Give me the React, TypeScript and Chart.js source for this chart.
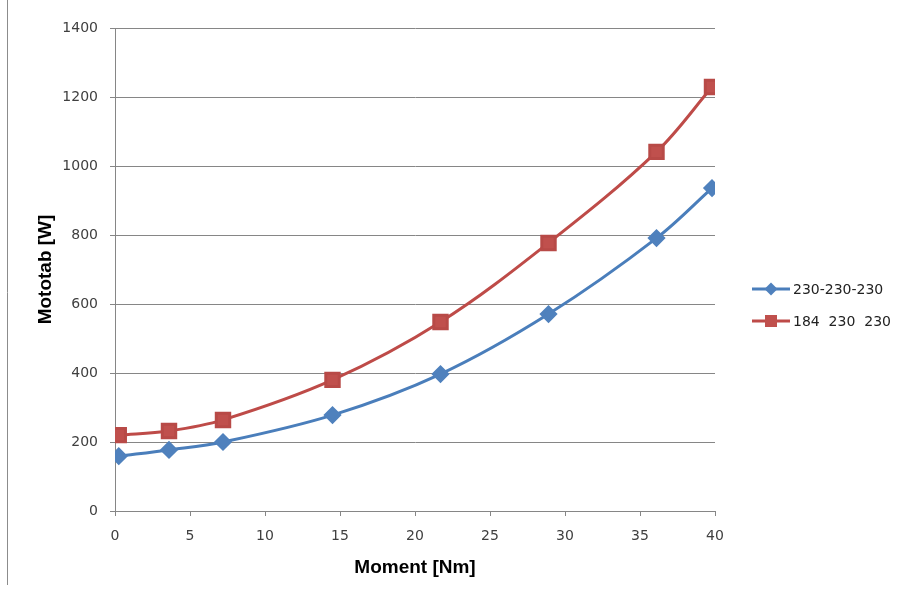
import React, { useEffect, useRef } from 'react';
import { Chart, registerables } from 'chart.js';

Chart.register(...registerables);

// Data
const momentValues = [0.25, 3.6, 7.2, 14.5, 21.7, 28.9, 36.1, 39.8];
const powerBlue = [159, 177, 200, 278, 397, 571, 791, 936];
const powerRed = [220, 232, 264, 380, 548, 777, 1041, 1229];
const seriesLabels = ['230-230-230', '184  230  230'];
const xTitle = 'Moment [Nm]';
const yTitle = 'Mototab [W]';

const BLUE = '#4A7EBB';
const RED = '#BE4B48';

const frameLinePlugin = {
  id: 'frameLine',
  beforeDraw(chart: any) {
    const ctx = chart.ctx;
    ctx.save();
    ctx.strokeStyle = '#8c8c8c';
    ctx.lineWidth = 1;
    ctx.beginPath();
    ctx.moveTo(7.5, 0);
    ctx.lineTo(7.5, 585);
    ctx.stroke();
    ctx.restore();
  },
};

const sideLegendPlugin = {
  id: 'sideLegend',
  afterDraw(chart: any) {
    const ctx = chart.ctx;
    const area = chart.chartArea;
    const x0 = area.right + 37;
    const x1 = x0 + 38;
    chart.data.datasets.forEach((ds: any, i: number) => {
      const y = 289 + i * 32;
      ctx.save();
      ctx.strokeStyle = ds.borderColor;
      ctx.lineWidth = 3;
      ctx.beginPath();
      ctx.moveTo(x0, y);
      ctx.lineTo(x1, y);
      ctx.stroke();
      const cx = (x0 + x1) / 2;
      ctx.fillStyle = ds.pointBackgroundColor;
      ctx.beginPath();
      if (ds.pointStyle === 'rectRot') {
        const r = 6.5;
        ctx.moveTo(cx, y - r);
        ctx.lineTo(cx + r, y);
        ctx.lineTo(cx, y + r);
        ctx.lineTo(cx - r, y);
        ctx.closePath();
      } else {
        const s = 6;
        ctx.rect(cx - s, y - s, 2 * s, 2 * s);
      }
      ctx.fill();
      ctx.fillStyle = '#222';
      ctx.font = '14px "DejaVu Sans"';
      ctx.textBaseline = 'middle';
      ctx.textAlign = 'left';
      ctx.fillText(ds.label, x1 + 3, y + 1);
      ctx.restore();
    });
  },
};

export default function App() {
  const canvasRef = useRef<HTMLCanvasElement | null>(null);

  useEffect(() => {
    if (!canvasRef.current) return;
    const chart = new Chart(canvasRef.current, {
      type: 'line',
      data: {
        datasets: [
          {
            label: seriesLabels[0],
            data: momentValues.map((x, i) => ({ x, y: powerBlue[i] })),
            borderColor: BLUE,
            backgroundColor: BLUE,
            pointBackgroundColor: '#4F81BD',
            pointBorderColor: '#4F81BD',
            pointStyle: 'rectRot',
            pointRadius: 7,
            borderWidth: 3,
            tension: 0.35,
          },
          {
            label: seriesLabels[1],
            data: momentValues.map((x, i) => ({ x, y: powerRed[i] })),
            borderColor: RED,
            backgroundColor: RED,
            pointBackgroundColor: '#C0504D',
            pointBorderColor: '#B84A47',
            pointStyle: 'rect',
            pointRadius: 9.5,
            borderWidth: 3,
            tension: 0.35,
          },
        ],
      },
      options: {
        animation: false,
        responsive: false,
        maintainAspectRatio: false,
        layout: { padding: { left: 30, top: 28, right: 188, bottom: 11 } },
        plugins: {
          legend: { display: false },
          tooltip: { enabled: false },
        },
        scales: {
          x: {
            type: 'linear',
            min: 0,
            max: 40,
            ticks: {
              stepSize: 5,
              padding: 12,
              color: '#404040',
              font: { family: '"DejaVu Sans"', size: 14 },
              maxRotation: 0,
              callback: (v: any) => String(v),
            },
            grid: {
              drawOnChartArea: false,
              drawTicks: true,
              tickLength: 5,
              color: '#868686',
            },
            border: { display: true, color: '#868686', width: 1 },
            title: {
              display: true,
              text: xTitle,
              color: '#000',
              font: { family: '"Liberation Sans"', size: 19, weight: 'bold' },
              padding: { top: 4, bottom: 4 },
            },
            afterFit(scale: any) {
              scale.height = 72;
            },
          },
          y: {
            type: 'linear',
            min: 0,
            max: 1400,
            ticks: {
              stepSize: 200,
              padding: 12,
              color: '#404040',
              font: { family: '"DejaVu Sans"', size: 14 },
              callback: (v: any) => String(v),
            },
            grid: {
              drawTicks: true,
              tickLength: 5,
              color: '#868686',
              lineWidth: 1,
            },
            border: { display: true, color: '#868686', width: 1 },
            title: {
              display: true,
              text: yTitle,
              color: '#000',
              font: { family: '"Liberation Sans"', size: 19, weight: 'bold' },
              padding: { top: 4, bottom: 4 },
            },
            afterFit(scale: any) {
              scale.width = 85;
            },
          },
        },
      },
      plugins: [frameLinePlugin, sideLegendPlugin],
    } as any);
    return () => chart.destroy();
  }, []);

  return (
    <div style={{ position: 'fixed', left: 0, top: 0, width: 903, height: 594, background: '#fff' }}>
      <canvas ref={canvasRef} width={903} height={594} style={{ display: 'block' }} />
    </div>
  );
}
